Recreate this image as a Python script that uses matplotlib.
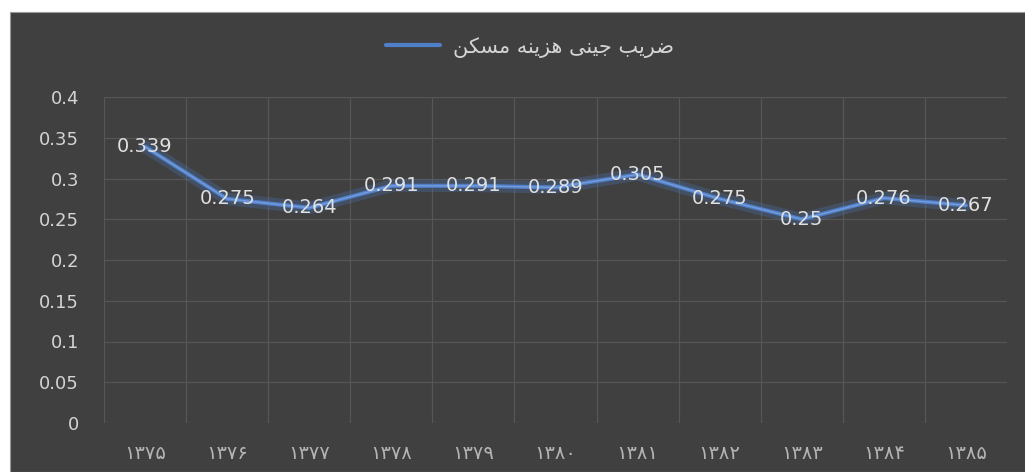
import matplotlib
matplotlib.use('Agg')
import matplotlib.pyplot as plt
from matplotlib.patches import Rectangle

# سال‌ها (ارقام فارسی)
years = ['۱۳۷۵', '۱۳۷۶', '۱۳۷۷', '۱۳۷۸', '۱۳۷۹', '۱۳۸۰',
         '۱۳۸۱', '۱۳۸۲', '۱۳۸۳', '۱۳۸۴', '۱۳۸۵']
gini = [0.339, 0.275, 0.264, 0.291, 0.291, 0.289, 0.305, 0.275, 0.25, 0.276, 0.267]
y_ticks = [0, 0.05, 0.1, 0.15, 0.2, 0.25, 0.3, 0.35, 0.4]
y_tick_labels = ['0', '0.05', '0.1', '0.15', '0.2', '0.25', '0.3', '0.35', '0.4']

# 'ضریب جینی هزینه مسکن' in presentation forms, visual (left-to-right) order,
# since matplotlib does no Arabic shaping itself
series_name = ('\uFEE6\uFEDC\uFEB4\uFEE3 \uFEEA\uFEE8\uFEF3\uFEB0\uFEEB '
               '\uFEF0\uFEE8\uFEF4\uFE9F \uFE90\uFEF3\uFEAE\uFEBF')

bg = '#404040'
txt = '#d4d4d4'
blue = '#4f7fc8'

fig = plt.figure(figsize=(10.25, 4.72), dpi=100)
fig.patch.set_facecolor('white')
fig.patches.append(Rectangle((10 / 1025, 0), 1, 1 - 12 / 472, transform=fig.transFigure,
                             facecolor=bg, edgecolor='#9a9a9a', lw=0.8, zorder=-10))

ax = fig.add_axes([104 / 1025, 1 - 423 / 472, (1007 - 104) / 1025, (423 - 97) / 472])
ax.set_facecolor('none')

x = list(range(len(years)))

# glow + line
ax.plot(x, gini, color=blue, lw=9, alpha=0.25, solid_capstyle='round', zorder=3)
ax.plot(x, gini, color=blue, lw=3, solid_capstyle='round', zorder=4, label=series_name)
ax.plot(x, gini, color='#8fb0e6', lw=1, alpha=0.6, zorder=5)

for i, v in zip(x, gini):
    ax.text(i, v, f'{v:g}', ha='center', va='center', color='#e0e0e0',
            fontsize=14, zorder=6)

ax.set_xlim(-0.5, len(years) - 0.5)
ax.set_ylim(0, 0.4)
ax.set_xticks(x)
ax.set_xticklabels(years, fontsize=14, color='#b4b4b4')
ax.set_xticks([i - 0.5 for i in range(len(years) + 1)], minor=True)
ax.set_yticks(y_ticks)
ax.set_yticklabels(y_tick_labels, fontsize=13, color=txt)
ax.tick_params(axis='both', which='both', length=0)
ax.tick_params(axis='x', pad=15)
ax.tick_params(axis='y', pad=18)

ax.grid(True, axis='y', which='major', color='#565656', lw=0.9)
ax.grid(True, axis='x', which='minor', color='#565656', lw=0.9)
for s in ax.spines.values():
    s.set_visible(False)

ax.legend(loc='center', bbox_to_anchor=(530 / 1025, 1 - 47 / 472),
          bbox_transform=fig.transFigure, frameon=False, fontsize=15,
          labelcolor=txt, handlelength=2.6, handletextpad=0.6)

fig.savefig('out.png', dpi=100, facecolor=fig.get_facecolor())
